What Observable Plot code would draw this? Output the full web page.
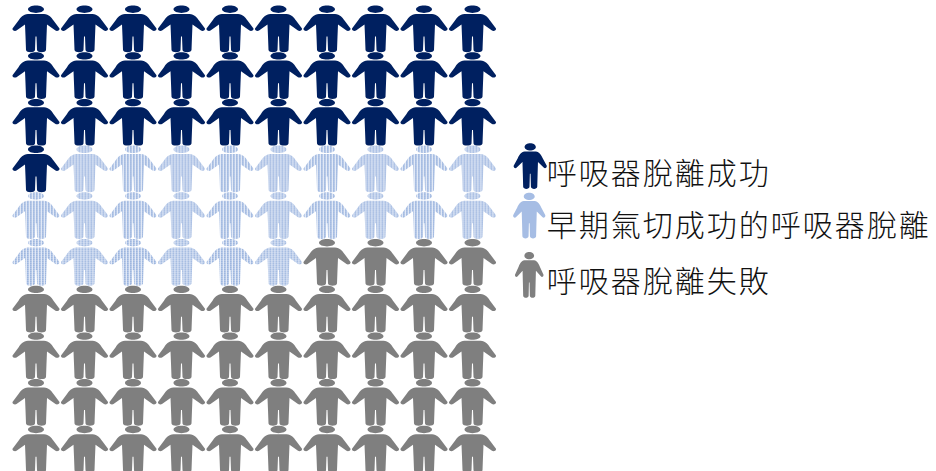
<!DOCTYPE html>
<html><head><meta charset="utf-8">
<script src="https://cdn.jsdelivr.net/npm/d3@7"></script>
<script src="https://cdn.jsdelivr.net/npm/@observablehq/plot@0.6"></script>
<style>html,body{margin:0;padding:0;background:#fff}svg{display:block}</style>
</head><body><div id="chart"></div>
<script>
const categories = ["呼吸器脫離成功", "早期氣切成功的呼吸器脫離", "呼吸器脫離失敗"];
const counts = [31, 25, 44];
const gridFills = ["#002060", "url(#hatch)", "#7f7f7f"];
const legendFills = ["#002060", "#a6bde4", "#7f7f7f"];
const legendCol = [10.19, 10.17, 10.17];
const legendRow = [2.94, 4.0, 5.27];
const legendTextRow = [3.1, 4.21, 5.41];
const legendWidth = [0.72, 0.7, 0.62];
const columns = 10;

const people = [];
categories.forEach((c, k) => {
  for (let i = 0; i < counts[k]; i++) {
    const n = people.length;
    people.push({col: n % columns, row: Math.floor(n / columns), fill: gridFills[k]});
  }
});
const legend = categories.map((name, k) => ({name, col: legendCol[k], row: legendRow[k], textRow: legendTextRow[k], fill: legendFills[k], w: legendWidth[k]}));

// person glyph, centred on the origin; r = 23.5 gives a 47px wide figure
function person(wx) {
  return {draw(ctx, size) {
    const s = Math.sqrt(size / Math.PI) / 23.5, X = v => v * s * wx, Y = v => v * s;
    ctx.moveTo(X(8), Y(-20.2));
    ctx.bezierCurveTo(X(8), Y(-18), X(4), Y(-16.6), X(0), Y(-16.6));
    ctx.bezierCurveTo(X(-4), Y(-16.6), X(-8), Y(-18), X(-8), Y(-20.2));
    ctx.bezierCurveTo(X(-8), Y(-22.4), X(-4), Y(-24), X(0), Y(-24));
    ctx.bezierCurveTo(X(4), Y(-24), X(8), Y(-22.4), X(8), Y(-20.2));
    ctx.closePath();
    ctx.moveTo(X(-8), Y(-15.6));
    ctx.lineTo(X(8), Y(-15.6));
    ctx.bezierCurveTo(X(13), Y(-15.2), X(15.5), Y(-12), X(17.5), Y(-9));
    ctx.lineTo(X(23.5), Y(-1));
    ctx.bezierCurveTo(X(24), Y(1), X(21), Y(2), X(19.5), Y(1));
    ctx.lineTo(X(11), Y(-5));
    ctx.lineTo(X(10.5), Y(7));
    ctx.lineTo(X(10), Y(20.5));
    ctx.bezierCurveTo(X(9.5), Y(23.4), X(1.5), Y(23.4), X(1), Y(20.5));
    ctx.lineTo(X(0.5), Y(7));
    ctx.lineTo(X(-0.5), Y(7));
    ctx.lineTo(X(-1), Y(20.5));
    ctx.bezierCurveTo(X(-1.5), Y(23.4), X(-9.5), Y(23.4), X(-10), Y(20.5));
    ctx.lineTo(X(-10.5), Y(7));
    ctx.lineTo(X(-11), Y(-5));
    ctx.lineTo(X(-19.5), Y(1));
    ctx.bezierCurveTo(X(-21), Y(2), X(-24), Y(1), X(-23.5), Y(-1));
    ctx.lineTo(X(-17.5), Y(-9));
    ctx.bezierCurveTo(X(-15.5), Y(-12), X(-13), Y(-15.2), X(-8), Y(-15.6));
    ctx.closePath();
  }};
}

const chart = Plot.plot({
  width: 936, height: 471,
  margin: 0,
  style: {background: "#fff"},
  x: {domain: [0, 9], range: [35.5, 472], axis: null},
  y: {domain: [0, 9], range: [29, 449.3], axis: null},
  marks: [
    Plot.dot(people, {x: "col", y: "row", r: 23.5, symbol: person(1), fill: "fill", stroke: "none"}),
    ...legend.map(d => Plot.dot([d], {x: "col", y: "row", r: 23, symbol: person(d.w), fill: "fill", stroke: "none"})),
    Plot.text(legend, {
      x: () => 10.53, y: "textRow", text: "name", textAnchor: "start",
      fontSize: 30, fontWeight: 300, fill: "#111",
      fontFamily: "'Noto Sans CJK TC','Noto Sans CJK SC',sans-serif"
    })
  ]
});
const ns = "http://www.w3.org/2000/svg";
const defs = document.createElementNS(ns, "defs");
defs.innerHTML = '<pattern id="hatch" patternUnits="userSpaceOnUse" width="3" height="2"><rect width="3" height="2" fill="#dfe7f5"/><rect width="1.7" height="2" fill="#9db6df"/><rect y="1" width="3" height="0.5" fill="#eef2fa" opacity=".5"/></pattern>';
chart.insertBefore(defs, chart.firstChild);
chart.querySelectorAll("text").forEach(t => { t.style.letterSpacing = "2px"; });
document.getElementById("chart").append(chart);
</script></body></html>
